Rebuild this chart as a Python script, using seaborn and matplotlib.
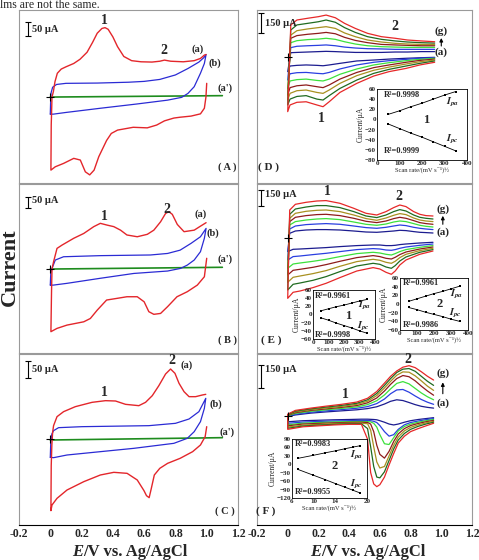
import matplotlib
matplotlib.use("Agg")
import matplotlib.pyplot as plt
import seaborn as sns

# ---------------- data (E in V, current in uA) ----------------
# panel A
A_red_E = [1.0, 0.995, 0.985, 0.96, 0.90, 0.83, 0.79, 0.73, 0.68, 0.62, 0.53, 0.43, 0.39, 0.36, 0.31, 0.28,
           0.252, 0.224, 0.192, 0.15, 0.085, 0.032, 0.004, 0.006, 0.011, 0.02, 0.03, 0.045, 0.07, 0.10, 0.15,
           0.19, 0.235, 0.27, 0.30, 0.33, 0.35, 0.37, 0.40, 0.43, 0.47, 0.52, 0.58, 0.65, 0.70, 0.73, 0.77,
           0.85, 0.92, 0.96, 0.985, 0.996]
A_red_I = [49, 0, -40, -60, -68, -72, -75, -85, -100, -110, -108, -118, -130, -155, -213, -261,
           -278, -267, -225, -219, -237, -249, -261, -100, 0, 20, 55, 85, 100, 108, 120,
           135, 160, 195, 228, 245, 248, 242, 215, 180, 145, 130, 126, 125, 128, 132, 128,
           126, 130, 138, 150, 152]
A_blue_E = [0.0, 0.002, 0.005, 0.015, 0.04, 0.10, 0.30, 0.50, 0.60, 0.70, 0.80, 0.88, 0.95, 0.98, 0.996,
            0.985, 0.96, 0.92, 0.88, 0.84, 0.75, 0.55, 0.32, 0.10, 0.02, 0.0]
A_blue_I = [-61, -20, 15, 35, 45, 49, 50, 53, 56, 63, 79, 102, 125, 140, 152,
            120, 85, 37, 13, -1, -11, -25, -40, -55, -61, -61]
A_green_E = [0.0, 1.1]
A_green_I = [0, 5]

# panel B
B_red_E = [1.0, 0.985, 0.94, 0.876, 0.81, 0.75, 0.705, 0.662, 0.63, 0.60, 0.556, 0.49, 0.43, 0.36, 0.30,
           0.256, 0.214, 0.107, 0.043, 0.004, 0.008, 0.011, 0.021, 0.043, 0.075, 0.15, 0.214, 0.278, 0.32,
           0.363, 0.406, 0.449, 0.49, 0.556, 0.62, 0.662, 0.705, 0.737, 0.758, 0.78, 0.812, 0.855, 0.92,
           0.962, 0.996]
B_red_I = [49, -35, -73, -103, -126, -171, -202, -206, -194, -149, -126, -126, -133, -141, -187,
           -225, -240, -255, -270, -285, -100, 0, 33, 94, 109, 140, 162, 193, 208,
           200, 193, 177, 155, 147, 158, 177, 215, 253, 261, 249, 203, 170, 177,
           196, 211]
B_blue_E = [0.0, 0.003, 0.011, 0.032, 0.085, 0.32, 0.64, 0.75, 0.83, 0.90, 0.96, 0.996,
            0.985, 0.96, 0.92, 0.876, 0.833, 0.75, 0.534, 0.32, 0.107, 0.02, 0.0]
B_blue_I = [-73, -20, 3, 41, 56, 61, 64, 71, 86, 117, 147, 185,
            140, 79, 41, 18, 3, -9, -20, -42, -65, -73, -73]
B_green_E = [0.0, 1.1]
B_green_I = [0, 8]

# panel C
C_red_E = [1.0, 0.99, 0.96, 0.91, 0.83, 0.75, 0.70, 0.665, 0.645, 0.632, 0.615, 0.599, 0.556, 0.491, 0.406,
           0.32, 0.214, 0.107, 0.043, 0.011, 0.004, 0.006, 0.01, 0.015, 0.021, 0.043, 0.085, 0.16, 0.267,
           0.353, 0.417, 0.481, 0.566, 0.609, 0.652, 0.694, 0.737, 0.769, 0.797, 0.823, 0.855, 0.887, 0.929,
           0.972, 0.994]
C_red_I = [37, 7, -18, -38, -58, -73, -88, -108, -150, -176, -170, -155, -123, -103, -100,
           -108, -128, -153, -178, -198, -215, -80, -18, 20, 40, 67, 82, 97, 110,
           115, 114, 104, 100, 110, 130, 160, 195, 210, 197, 167, 142, 127, 127,
           132, 134]
C_blue_E = [0.0, 0.003, 0.01, 0.021, 0.053, 0.203, 0.63, 0.80, 0.887, 0.95, 0.994,
            0.985, 0.96, 0.92, 0.876, 0.79, 0.534, 0.32, 0.107, 0.021, 0.0]
C_blue_I = [-55, -10, 15, 25, 34, 37, 40, 47, 60, 82, 122,
            92, 52, 22, 2, -13, -28, -38, -48, -56, -55]
C_green_E = [0.0, 1.1]
C_green_I = [-3, 4]

# panel D, curves (a)..(g)
D_E_cat = [0.957, 0.86, 0.77, 0.66, 0.56, 0.45, 0.34, 0.27, 0.23, 0.19, 0.12, 0.06, 0.015, 0.0]
D_E_an = [0.02, 0.06, 0.13, 0.20, 0.25, 0.31, 0.37, 0.44, 0.52, 0.61, 0.70, 0.78, 0.87, 0.957]
D_cat = [
    [-5, -8, -12, -18, -25, -32, -50, -62, -68, -65, -62, -65, -70, -112],
    [-8, -12, -20, -30, -42, -62, -92, -118, -128, -125, -118, -120, -128, -175],
    [-12, -20, -30, -45, -62, -92, -132, -168, -182, -178, -168, -172, -182, -238],
    [-18, -28, -42, -62, -82, -118, -168, -212, -232, -225, -212, -218, -232, -288],
    [-25, -38, -55, -78, -102, -142, -200, -250, -275, -268, -250, -255, -275, -325],
    [-32, -50, -70, -95, -125, -175, -238, -292, -325, -318, -292, -298, -318, -362],
    [-42, -62, -88, -112, -145, -200, -268, -338, -375, -362, -338, -342, -362, -412],
]
D_an = [
    [30, 32, 35, 38, 40, 38, 35, 32, 32, 32, 35, 35, 38, 38],
    [68, 78, 82, 85, 88, 82, 72, 65, 60, 58, 55, 55, 55, 55],
    [105, 120, 128, 132, 138, 130, 112, 95, 82, 75, 72, 70, 70, 70],
    [138, 158, 168, 175, 182, 172, 145, 122, 105, 92, 88, 85, 82, 82],
    [162, 195, 208, 218, 225, 212, 178, 150, 125, 110, 100, 95, 92, 92],
    [200, 238, 250, 262, 275, 258, 218, 182, 150, 130, 118, 110, 105, 102],
    [238, 275, 288, 300, 312, 292, 250, 212, 175, 150, 138, 125, 118, 112],
]

# panel E
E_E_cat = [0.946, 0.86, 0.77, 0.73, 0.70, 0.675, 0.64, 0.60, 0.556, 0.45, 0.34, 0.25, 0.165, 0.08, 0.035, 0.0]
E_E_an = [0.013, 0.05, 0.12, 0.19, 0.25, 0.34, 0.43, 0.51, 0.58, 0.64, 0.69, 0.73, 0.77, 0.82, 0.86, 0.90, 0.946]
E_cat = [
    [-40, -47, -57, -63, -70, -73, -73, -67, -67, -73, -83, -93, -100, -107, -110, -133],
    [-57, -70, -87, -100, -113, -120, -117, -107, -103, -113, -133, -150, -163, -177, -183, -217],
    [-73, -90, -113, -133, -153, -167, -160, -147, -140, -153, -183, -210, -230, -247, -257, -300],
    [-87, -107, -137, -163, -190, -207, -200, -183, -173, -193, -230, -263, -290, -310, -320, -367],
    [-100, -123, -160, -193, -230, -250, -240, -220, -210, -233, -280, -323, -353, -377, -390, -440],
    [-113, -140, -187, -227, -273, -300, -287, -260, -250, -277, -333, -383, -420, -447, -460, -517],
    [-127, -160, -217, -267, -327, -360, -340, -307, -293, -327, -393, -450, -493, -527, -540, -600],
]
E_an = [
    [50, 73, 83, 87, 87, 83, 73, 63, 60, 67, 73, 80, 77, 67, 60, 57, 53],
    [93, 123, 137, 143, 147, 140, 123, 107, 100, 110, 123, 133, 127, 110, 100, 93, 87],
    [133, 167, 183, 193, 197, 187, 163, 140, 130, 143, 163, 173, 167, 147, 130, 120, 113],
    [167, 210, 227, 237, 240, 227, 200, 170, 157, 173, 197, 210, 200, 177, 157, 147, 140],
    [200, 250, 270, 280, 283, 267, 233, 197, 180, 203, 230, 247, 237, 203, 183, 173, 167],
    [240, 293, 313, 327, 327, 307, 267, 223, 207, 233, 267, 287, 273, 233, 210, 200, 193],
    [283, 340, 360, 373, 377, 350, 300, 250, 233, 267, 307, 333, 317, 267, 240, 227, 223],
]

# panel F
F_E_cat = [0.95, 0.90, 0.85, 0.80, 0.76, 0.72, 0.69, 0.66, 0.63, 0.60, 0.58, 0.56, 0.54, 0.52, 0.48,
           0.40, 0.30, 0.20, 0.10, 0.0]
F_E_an = [0.0, 0.05, 0.15, 0.25, 0.35, 0.45, 0.52, 0.58, 0.63, 0.67, 0.71, 0.75, 0.79, 0.83, 0.87, 0.91, 0.95]
F_cat = [
    [-8, -14, -20, -28, -38, -50, -56, -50, -38, -28, -22, -20, -19, -18, -18, -20, -22, -25, -28, -35],
    [-14, -21, -30, -40, -55, -85, -120, -130, -100, -60, -40, -32, -28, -26, -26, -28, -30, -33, -37, -45],
    [-20, -28, -38, -50, -66, -95, -140, -185, -180, -120, -70, -45, -36, -34, -33, -34, -36, -40, -44, -55],
    [-26, -35, -46, -60, -80, -115, -165, -230, -275, -250, -190, -100, -50, -40, -38, -39, -42, -46, -50, -62],
    [-32, -42, -55, -72, -95, -135, -190, -260, -330, -340, -300, -200, -90, -48, -44, -44, -47, -52, -57, -70],
    [-38, -50, -65, -85, -112, -155, -215, -290, -365, -405, -400, -330, -200, -80, -48, -48, -52, -57, -63, -78],
    [-45, -62, -80, -100, -130, -175, -245, -320, -400, -450, -463, -445, -370, -150, -52, -52, -56, -62, -68, -85],
]
F_an = [
    [0, 10, 22, 30, 37, 44, 52, 64, 82, 100, 110, 105, 92, 78, 67, 60, 55],
    [3, 15, 28, 37, 45, 54, 65, 85, 115, 150, 175, 178, 160, 135, 112, 94, 80],
    [5, 20, 34, 44, 53, 63, 78, 104, 142, 182, 218, 230, 215, 185, 155, 130, 110],
    [8, 25, 40, 50, 60, 72, 90, 122, 168, 212, 250, 270, 262, 235, 200, 168, 140],
    [10, 30, 45, 56, 66, 80, 100, 138, 188, 232, 272, 294, 292, 268, 235, 200, 172],
    [12, 35, 50, 62, 73, 87, 110, 152, 205, 250, 290, 312, 316, 298, 265, 232, 205],
    [15, 40, 55, 68, 80, 95, 120, 165, 220, 265, 300, 325, 335, 322, 295, 265, 240],
]

# insets: peak current vs scan rate
rate = [50, 100, 150, 200, 250, 300, 350]
D_ipa = [10, 17, 25, 32, 40, 48, 55]
D_ipc = [-9, -18, -27, -35, -44, -53, -62]
E1_ipa = [9, 14, 19, 23, 28, 33, 37]
E1_ipc = [-8, -14, -21, -27, -33, -40, -46]
E2_ipa = [6, 12, 18, 24, 29, 35, 41]
E2_ipc = [-8, -13, -19, -24, -29, -35, -40]
F_rate = [7.07, 10.0, 12.25, 14.14, 15.81, 17.32, 18.71]
F_ipa = [21, 32, 41, 48, 55, 61, 66]
F_ipc = [-18, -39, -55, -69, -81, -92, -102]

x_ticks = [-0.2, 0, 0.2, 0.4, 0.6, 0.8, 1.0, 1.2]
x_tick_labels = ["-0.2", "0", "0.2", "0.4", "0.6", "0.8", "1.0", "1.2"]

# ---------------- style ----------------
sns.set_style("white")
plt.rcParams['font.family'] = ['Liberation Serif', 'DejaVu Serif']
plt.rcParams['font.weight'] = 'bold'
plt.rcParams['mathtext.fontset'] = 'stix'

RED, BLUE, GREEN = '#e3262b', '#2b2bd4', '#1e8c1e'
SERIES = ['#1c1c8f', '#2a3fe0', '#3ce03c', '#8e1b1b', '#a89020', '#206b20', '#e62828']

W, H = 479, 560
fig = plt.figure(figsize=(W / 100, H / 100), dpi=100)


def px_axes(x0, y0, x1, y1, z=1):
    return fig.add_axes([x0 / W, 1 - y1 / H, (x1 - x0) / W, (y1 - y0) / H], zorder=z)


def line(ax, xs, ys, color, lw=1.0, **kw):
    sns.lineplot(x=xs, y=ys, sort=False, estimator=None, color=color, lw=lw,
                 ax=ax, legend=False, **kw)


def frame(ax, ylim, bottom=False):
    ax.set_xlim(-0.2, 1.2)
    ax.set_ylim(*ylim)
    ax.set_yticks([])
    ax.set_xlabel('')
    ax.set_ylabel('')
    for s in ax.spines.values():
        s.set_color('#9a9a9a')
        s.set_linewidth(0.8)
    if bottom:
        ax.spines['bottom'].set_color('k')
        ax.set_xticks(x_ticks)
        ax.set_xticklabels(x_tick_labels)
        ax.tick_params(axis='x', direction='in', length=3, width=0.8, labelsize=8.5, pad=2)
    else:
        ax.set_xticks([])
    ax.plot([0], [0], marker='+', ms=6, mew=0.8, color='k', zorder=5)


def scale_bar(ax, x, y0, y1, label, tx, ty):
    ax.plot([x, x], [y0, y1], color='k', lw=0.8)
    ax.plot([x, x], [y0, y1], ls='none', marker='_', ms=4, mew=0.8, color='k')
    ax.text(tx, ty, label, fontsize=7.5, ha='left', va='center')


def labels(ax, items, size):
    for x, y, s in items:
        ax.text(x, y, s, fontsize=size, ha='center', va='center')


def up_arrow(ax, x, y0, y1):
    ax.annotate('', xy=(x, y1), xytext=(x, y0),
                arrowprops=dict(arrowstyle='-|>', lw=0.8, color='k', mutation_scale=5,
                                shrinkA=0, shrinkB=0))


def inset(ax, xs, ipa, ipc, xlim, ylim, xticks, yticks, texts):
    for ys in (ipa, ipc):
        sns.lineplot(x=xs, y=ys, sort=False, estimator=None, color='k', lw=0.6,
                     marker='s', markersize=1.8, markeredgewidth=0, ax=ax, legend=False)
    ax.set_facecolor('white')
    ax.set_xlim(*xlim)
    ax.set_ylim(*ylim)
    ax.set_xticks(xticks)
    ax.set_yticks(yticks)
    ax.tick_params(direction='in', length=1.5, width=0.5, labelsize=5, pad=0.8)
    for s in ax.spines.values():
        s.set_color('k')
        s.set_linewidth(0.6)
    ax.set_xlabel("Scan rate/(mV s⁻¹)½", fontsize=4.7, labelpad=0.5)
    ax.set_ylabel("Current/µA", fontsize=5.5, labelpad=0)
    for x, y, s, size, ha in texts:
        ax.text(x, y, s, fontsize=size, ha=ha, va='center')


# ---------------- main panels ----------------
axA = px_axes(19, 10, 238, 183)
axB = px_axes(19, 184, 238, 353)
axC = px_axes(19, 354, 238, 525)
axD = px_axes(257, 10, 472, 183)
axE = px_axes(257, 184, 472, 353)
axF = px_axes(257, 354, 472, 525)

for ax, (rE, rI), (bE, bI), (gE, gI) in [
    (axA, (A_red_E, A_red_I), (A_blue_E, A_blue_I), (A_green_E, A_green_I)),
    (axB, (B_red_E, B_red_I), (B_blue_E, B_blue_I), (B_green_E, B_green_I)),
    (axC, (C_red_E, C_red_I), (C_blue_E, C_blue_I), (C_green_E, C_green_I)),
]:
    line(ax, gE, gI, GREEN, lw=1.2)
    line(ax, bE, bI, BLUE, lw=0.9)
    line(ax, rE, rI, RED, lw=1.0)

for ax, e_cat, e_an, cat, an in [
    (axD, D_E_cat, D_E_an, D_cat, D_an),
    (axE, E_E_cat, E_E_an, E_cat, E_an),
    (axF, F_E_cat, F_E_an, F_cat, F_an),
]:
    for i in range(7):
        line(ax, e_cat + e_an, cat[i] + an[i], SERIES[i], lw=0.9)

frame(axA, (-307, 311))
frame(axB, (-382, 387))
frame(axC, (-258, 255), bottom=True)
frame(axD, (-947, 350))
frame(axE, (-1147, 543))
frame(axF, (-716, 412), bottom=True)

scale_bar(axA, -0.141, 218, 269, "50 µA", -0.117, 243)
scale_bar(axB, -0.141, 279, 329, "50 µA", -0.117, 310)
scale_bar(axC, -0.143, 182, 234, "50 µA", -0.117, 207)
scale_bar(axD, -0.176, 175, 325, "150 µA", -0.15, 250)
scale_bar(axE, -0.176, 327, 483, "150 µA", -0.15, 433)
scale_bar(axF, -0.176, 190, 340, "150 µA", -0.15, 307)

labels(axA, [(0.346, 275, "1"), (0.726, 168, "2")], 10)
labels(axA, [(0.94, 172, "(a)"), (1.05, 120, "(b)"), (1.12, 31, "(a')"), (1.13, -249, "( A )")], 7.5)
labels(axB, [(0.346, 238, "1"), (0.748, 273, "2")], 10)
labels(axB, [(0.96, 249, "(a)"), (1.04, 165, "(b)"), (1.12, 44, "(a')"), (1.13, -325, "( B )")], 7.5)
labels(axC, [(0.346, 140, "1"), (0.78, 234, "2")], 10)
labels(axC, [(0.87, 220, "(a)"), (1.057, 104, "(b)"), (1.13, 20, "(a')"), (1.115, -218, "( C )")], 7.5)
labels(axD, [(0.219, -462, "1"), (0.697, 225, "2")], 10)
labels(axD, [(1.0, 188, "(g)"), (1.0, 32, "(a)"), (-0.128, -825, "( D )")], 8)
up_arrow(axD, 1.0, 80, 140)
labels(axE, [(0.256, 466, "1"), (0.725, 416, "2")], 10)
labels(axE, [(1.01, 293, "(g)"), (1.01, 57, "(a)"), (-0.106, -1017, "( E )")], 8)
up_arrow(axE, 1.01, 140, 225)
labels(axF, [(0.378, 142, "1"), (0.783, 373, "2")], 10)
labels(axF, [(1.01, 285, "(g)"), (1.01, 87, "(a)"), (-0.143, -628, "( F )")], 8)
up_arrow(axF, 1.01, 150, 225)

# ---------------- insets ----------------
inD = px_axes(377, 89, 467, 160, z=5)
inset(inD, rate, D_ipa, D_ipc, (0, 400), (-80, 60), [0, 100, 200, 300, 400],
      [-80, -60, -40, -20, 0, 20, 40, 60],
      [(30, 49, "R²=0.9998", 6, 'left'), (30, -62, "R²=0.9999", 6, 'left'),
       (220, -1, "1", 9, 'center'), (335, 33, "$I_{pa}$", 7.5, 'center'),
       (335, -40, "$I_{pc}$", 7.5, 'center')])

inE1 = px_axes(313, 290, 375, 339, z=5)
inset(inE1, rate, E1_ipa, E1_ipc, (0, 400), (-60, 60), [0, 100, 200, 300, 400],
      [-60, -40, -20, 0, 20, 40, 60],
      [(15, 45, "R²=0.9961", 6, 'left'), (15, -50, "R²=0.9998", 6, 'left'),
       (225, -3, "1", 9, 'center'), (335, 22, "$I_{pa}$", 7.5, 'center'),
       (325, -30, "$I_{pc}$", 7.5, 'center')])

inE2 = px_axes(400, 278, 468, 330, z=5)
inset(inE2, rate, E2_ipa, E2_ipc, (0, 400), (-60, 60), [0, 100, 200, 300, 400],
      [-60, -40, -20, 0, 20, 40, 60],
      [(15, 48, "R²=0.9961", 6, 'left'), (15, -48, "R²=0.9986", 6, 'left'),
       (235, 0, "2", 9, 'center'), (335, 22, "$I_{pa}$", 7.5, 'center'),
       (325, -22, "$I_{pc}$", 7.5, 'center')])

inF = px_axes(292, 439, 367, 498, z=5)
inset(inF, F_rate, F_ipa, F_ipc, (6, 20), (-120, 90), [6, 10, 14, 20],
      [-120, -90, -60, -30, 0, 30, 60, 90],
      [(6.6, 72, "R²=0.9983", 6, 'left'), (6.6, -98, "R²=0.9955", 6, 'left'),
       (14.0, -6, "2", 9, 'center'), (18.0, 33, "$I_{pa}$", 7.5, 'center'),
       (18.0, -73, "$I_{pc}$", 7.5, 'center')])

# ---------------- figure texts ----------------
fig.text(0.0, 1 - 7.5 / H, "lms are not the same.", fontsize=8.5, fontweight='normal', va='baseline')
fig.text(9.5 / W, 1 - 267 / H, "Current", fontsize=16, rotation=90, ha='center', va='center')

for x_start in (83, 321):
    t = fig.text(x_start / W, 1 - 556 / H, "/V vs. Ag/AgCl", fontsize=12, ha='left', va='baseline')
    axA.annotate("E", xy=(0, 0), xycoords=t, fontsize=12, style='italic',
                 ha='right', va='bottom', annotation_clip=False)

fig.savefig("out.png", dpi=100)
